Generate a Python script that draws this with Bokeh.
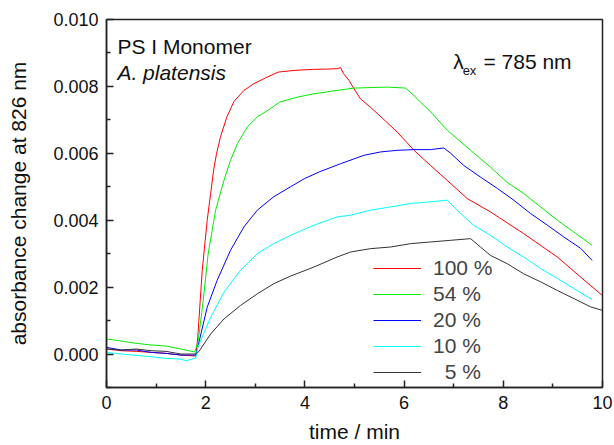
from bokeh.plotting import figure
from bokeh.models import Legend, LegendItem, Label, FixedTicker, Range1d, PrintfTickFormatter
from bokeh.embed import file_html
from bokeh.resources import INLINE

# ---- data ----
x_100 = [0, 0.3, 0.6, 0.9, 1.2, 1.5, 1.8, 1.84, 1.93, 2.03, 2.10, 2.16, 2.22, 2.30, 2.43, 2.57, 2.77,
         2.97, 3.24, 3.47, 3.8, 4.18, 4.5, 4.65, 4.72, 4.78, 4.89, 4.99, 5.12, 5.32, 5.49, 5.86, 6.20,
         6.53, 6.87, 7.27, 7.74, 8.41, 9.09, 9.56, 9.99]
y_100 = [0.00015, 0.00010, 0.00008, 0.00005, 0.00002, -0.00003, -0.00006, 0.0005, 0.0025, 0.0040,
         0.0048, 0.0055, 0.0060, 0.0065, 0.0071, 0.00755, 0.00788, 0.00808, 0.00828, 0.00843, 0.00848,
         0.00851, 0.00852, 0.00853, 0.00856, 0.00838, 0.00818, 0.00793, 0.00763, 0.00738, 0.00715,
         0.00664, 0.00609, 0.00564, 0.00519, 0.00465, 0.00425, 0.00360, 0.00290, 0.00230, 0.00176]

x_54 = [0, 0.25, 0.55, 0.9, 1.2, 1.5, 1.78, 1.85, 1.95, 2.05, 2.20, 2.37, 2.50, 2.64, 2.84, 3.04, 3.27,
        3.49, 3.85, 4.18, 4.65, 4.99, 5.66, 6.03, 6.16, 6.33, 6.53, 6.87, 7.34, 7.74, 8.07, 8.41, 8.75,
        9.09, 9.42, 9.79]
y_54 = [0.00045, 0.00040, 0.00033, 0.00027, 0.00024, 0.00015, 0.00006, 0.0004, 0.0016, 0.0030, 0.0043,
        0.0052, 0.00579, 0.00629, 0.00679, 0.00709, 0.00730, 0.00753, 0.00768, 0.00778, 0.00788, 0.00795,
        0.00798, 0.00795, 0.00778, 0.00753, 0.00725, 0.00669, 0.00609, 0.00559, 0.00514, 0.00480,
        0.00440, 0.00400, 0.00365, 0.00325]

x_20 = [0, 0.3, 0.6, 0.9, 1.2, 1.5, 1.8, 1.84, 2.03, 2.23, 2.5, 2.77, 3.04, 3.37, 3.71, 4.0, 4.3, 4.72,
        5.19, 5.52, 5.86, 6.20, 6.53, 6.80, 6.94, 7.20, 7.54, 7.88, 8.21, 8.55, 8.89, 9.22, 9.56, 9.79]
y_20 = [0.00020, 0.00012, 0.00012, 0.00005, 0.00002, -0.00003, -0.00003, 0.0002, 0.0014, 0.0022, 0.0031,
        0.0038, 0.0043, 0.0047, 0.0050, 0.00525, 0.00545, 0.00569, 0.00594, 0.00604, 0.00609, 0.00611,
        0.00611, 0.00616, 0.00600, 0.00564, 0.00529, 0.00495, 0.00460, 0.00420, 0.00385, 0.00350,
        0.00316, 0.00280]

x_10 = [0, 0.3, 0.55, 0.9, 1.2, 1.5, 1.6, 1.8, 1.84, 2.10, 2.37, 2.70, 3.04, 3.37, 3.71, 4.18, 4.65,
        4.92, 5.32, 5.73, 6.13, 6.53, 6.87, 7.14, 7.40, 7.74, 8.08, 8.41, 8.75, 9.09, 9.42, 9.79]
y_10 = [0.00005, 0.0, -0.00003, -0.00008, -0.00013, -0.00015, -0.00020, -0.00012, 0.0002, 0.0011,
        0.00185, 0.0025, 0.0030, 0.0033, 0.00355, 0.00385, 0.0041, 0.00415, 0.0043, 0.0044, 0.0045,
        0.00455, 0.0046, 0.0042, 0.00385, 0.00355, 0.0032, 0.0029, 0.00256, 0.00226, 0.00196, 0.00163]

x_5 = [0, 0.3, 0.6, 0.9, 1.2, 1.5, 1.8, 1.86, 2.10, 2.37, 2.70, 3.04, 3.37, 3.71, 4.18, 4.65, 4.92,
       5.32, 5.73, 6.13, 6.53, 6.94, 7.34, 7.54, 7.74, 8.08, 8.41, 8.75, 9.09, 9.42, 9.76, 9.99]
y_5 = [0.00015, 0.00012, 0.00015, 0.00010, 0.00008, 0.0, 0.0, 0.00007, 0.0006, 0.00105, 0.00145, 0.0018,
       0.0021, 0.00233, 0.0026, 0.0029, 0.00305, 0.00315, 0.0032, 0.0033, 0.00335, 0.0034, 0.00345,
       0.0032, 0.00295, 0.0027, 0.0024, 0.00216, 0.0019, 0.00166, 0.00141, 0.00131]

series = [
    ("100 %", x_100, y_100, "#ff0000"),
    ("54 %", x_54, y_54, "#00ee00"),
    ("20 %", x_20, y_20, "#0000ff"),
    ("10 %", x_10, y_10, "#00ffff"),
    ("\u20075 %", x_5, y_5, "#333333"),
]

x_ticks = [0, 2, 4, 6, 8, 10]
x_minor = [1, 3, 5, 7, 9]
y_ticks = [0.000, 0.002, 0.004, 0.006, 0.008, 0.010]
y_minor = [-0.001, 0.001, 0.003, 0.005, 0.007, 0.009]

FONT = "Liberation Sans"

p = figure(width=614, height=445, output_backend="svg", toolbar_location=None,
           x_range=Range1d(0, 10), y_range=Range1d(-0.001, 0.010),
           min_border_left=106, min_border_right=12, min_border_top=19, min_border_bottom=58)
p.xgrid.visible = False
p.ygrid.visible = False
p.outline_line_color = "#222222"
p.outline_line_width = 1.5
p.background_fill_color = "white"
p.border_fill_color = "white"

items = []
for name, xs, ys, col in series:
    r = p.line(xs, ys, line_color=col, line_width=1)
    items.append(LegendItem(label=name, renderers=[r]))

legend = Legend(items=items, location=(267, 2), glyph_width=48, glyph_height=26, label_height=26,
                label_standoff=12, spacing=0, padding=0, margin=0,
                label_text_font=FONT, label_text_font_size="21px",
                border_line_color=None, background_fill_alpha=0)
p.add_layout(legend, "center")

for ax in (p.xaxis[0], p.yaxis[0]):
    ax.axis_line_color = "#222222"
    ax.axis_line_width = 1.5
    ax.major_tick_line_color = "#222222"
    ax.minor_tick_line_color = "#222222"
    ax.major_tick_line_width = 1.5
    ax.minor_tick_line_width = 1.5
    ax.major_tick_in = 7
    ax.major_tick_out = 0
    ax.minor_tick_in = 4
    ax.minor_tick_out = 0
    ax.major_label_text_font = FONT
    ax.major_label_text_font_size = "18px"
    ax.major_label_text_color = "#111111"
    ax.axis_label_text_font = FONT
    ax.axis_label_text_font_size = "21px"
    ax.axis_label_text_font_style = "normal"
    ax.axis_label_text_color = "#111111"
    ax.major_label_standoff = 8

p.xaxis.ticker = FixedTicker(ticks=x_ticks, minor_ticks=x_minor)
p.yaxis.ticker = FixedTicker(ticks=y_ticks, minor_ticks=y_minor)
p.yaxis.formatter = PrintfTickFormatter(format="%.3f")
p.xaxis.axis_label = "time / min"
p.yaxis.axis_label = "absorbance change at 826 nm"
p.xaxis.axis_label_standoff = 8
p.yaxis.axis_label_standoff = 20

labels = [
    dict(x=0.22, y=0.00919, text="PS I Monomer", text_font_size="21px", text_font_style="normal"),
    dict(x=0.22, y=0.00843, text="A. platensis", text_font_size="21px", text_font_style="italic"),
    dict(x=6.99, y=0.00873, text="\u03bb", text_font_size="21px", text_font_style="normal"),
    dict(x=7.18, y=0.00848, text="ex", text_font_size="13px", text_font_style="normal"),
    dict(x=7.60, y=0.00873, text="= 785 nm", text_font_size="21px", text_font_style="normal"),
]
for d in labels:
    p.add_layout(Label(x=d["x"], y=d["y"], text=d["text"], text_font=FONT,
                       text_font_size=d["text_font_size"], text_font_style=d["text_font_style"],
                       text_baseline="alphabetic", text_color="#111111"))

open("out.html", "w").write(file_html(p, INLINE))
